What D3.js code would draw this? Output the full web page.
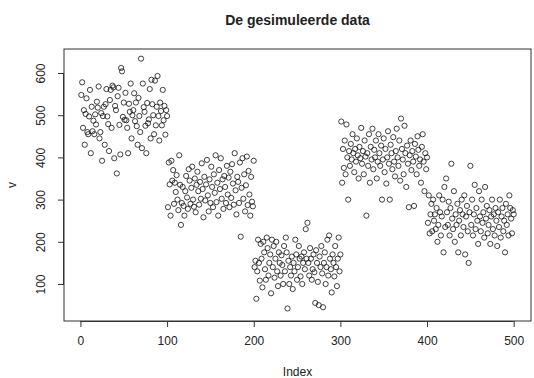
<!DOCTYPE html>
<html>
<head>
<meta charset="utf-8">
<script src="https://cdn.jsdelivr.net/npm/d3@7"></script>
<style>
  html, body { margin: 0; padding: 0; background: #fff; }
  svg { display: block; }
  text { font-family: "Liberation Sans", Arial, sans-serif; fill: #222; }
</style>
</head>
<body>
<script>
// Simulated series in five consecutive blocks of 100 observations
const block1 = [548,578,470,512,430,503,540,460,455,497,560,410,520,462,487,455,502,478,532,518,
  568,445,460,505,392,498,520,430,526,562,497,479,415,536,560,470,570,566,398,522,
  512,362,545,565,477,407,612,604,496,530,489,553,488,470,410,527,508,575,445,500,
  512,552,486,530,474,430,541,498,460,634,422,575,519,508,475,410,529,481,490,562,
  445,584,526,500,455,582,476,520,593,498,440,530,510,476,560,488,522,454,512,498];
const block2 = [282,388,336,262,392,345,370,290,340,318,358,300,275,405,335,240,292,330,285,262,
  320,356,305,278,372,345,290,328,378,300,283,350,270,335,366,320,288,342,302,386,
  325,258,354,298,336,394,310,272,348,292,378,330,282,360,316,405,294,340,262,370,
  325,398,302,348,278,356,330,292,380,312,352,282,366,304,384,338,288,410,322,265,
  354,342,292,388,212,328,398,302,360,272,334,402,287,368,312,262,354,295,284,392];
const block3 = [140,155,65,130,205,150,108,195,160,92,200,175,135,110,210,185,120,150,170,78,
  205,140,190,115,160,200,130,95,175,150,120,168,145,100,190,130,210,175,42,155,
  100,140,120,165,88,150,130,205,170,110,140,190,160,118,165,100,150,175,135,230,
  160,245,150,120,185,160,110,135,170,128,55,180,150,105,50,165,140,190,125,45,
  150,175,100,140,205,120,215,160,135,80,170,150,118,190,140,95,160,210,130,170];
const block4 = [485,340,420,375,440,360,478,400,300,415,380,432,395,455,410,365,420,390,445,405,
  350,425,398,470,385,415,360,440,402,262,410,380,455,340,425,395,468,372,418,400,
  440,350,390,455,410,380,428,300,395,445,365,420,338,400,462,385,300,430,410,372,
  448,390,355,415,468,400,380,440,345,492,420,395,360,475,410,330,428,385,282,405,
  440,370,415,390,285,432,402,360,450,418,380,395,340,425,455,390,320,410,372,400];
const block5 = [245,310,220,265,290,225,300,250,265,230,280,200,240,310,270,215,260,300,175,330,
  235,350,270,240,295,215,280,385,255,230,320,200,265,240,290,175,250,275,215,300,
  265,235,310,170,260,285,225,150,270,380,240,300,215,265,335,230,280,250,195,320,
  260,225,300,245,270,210,330,255,285,220,240,275,195,260,300,230,265,215,280,250,
  190,270,235,300,210,260,280,225,250,175,290,240,265,215,310,280,255,220,275,265];

const xTicks = [0, 100, 200, 300, 400, 500];
const yTicks = [100, 200, 300, 400, 500, 600];
const titleText = "De gesimuleerde data";
const xLabel = "Index";
const yLabel = "v";

const values = [].concat(block1, block2, block3, block4, block5);
const points = values.map((v, i) => ({ index: i + 1, v }));

const W = 534, H = 378;
const box = { left: 64, right: 531, top: 49, bottom: 321 };

const svg = d3.select("body").append("svg").attr("width", W).attr("height", H);

// R-style 4% padding around the data range
const xExt = d3.extent(points, d => d.index);
const xPad = (xExt[1] - xExt[0]) * 0.04;
const x = d3.scaleLinear().domain([xExt[0] - xPad, xExt[1] + xPad]).range([box.left, box.right]);
const y = d3.scaleLinear().domain([12.3, 656.9]).range([box.bottom, box.top]);

// plot frame
svg.append("rect")
  .attr("x", box.left).attr("y", box.top)
  .attr("width", box.right - box.left).attr("height", box.bottom - box.top)
  .attr("fill", "none").attr("stroke", "#333").attr("stroke-width", 1);

// x axis
const xAxis = svg.append("g")
  .attr("transform", `translate(0,${box.bottom})`)
  .call(d3.axisBottom(x).tickValues(xTicks).tickSize(6).tickPadding(9).tickFormat(d3.format("d")));
xAxis.select(".domain").attr("stroke", "#333").attr("d", `M${x(0)},0.5H${x(500)}`);
xAxis.selectAll(".tick line").attr("stroke", "#333");
xAxis.selectAll("text").attr("font-size", 12).attr("fill", "#222")
  .style("font-family", "'Liberation Sans', Arial, sans-serif");

// y axis with labels parallel to the axis
const yAxis = svg.append("g")
  .attr("transform", `translate(${box.left},0)`)
  .call(d3.axisLeft(y).tickValues(yTicks).tickSize(6).tickFormat(d3.format("d")));
yAxis.select(".domain").attr("stroke", "#333").attr("d", `M-0.5,${y(100)}V${y(600)}`);
yAxis.selectAll(".tick line").attr("stroke", "#333");
yAxis.selectAll("text")
  .attr("font-size", 12).attr("fill", "#222")
  .style("font-family", "'Liberation Sans', Arial, sans-serif")
  .attr("x", null).attr("dy", null)
  .attr("text-anchor", "middle")
  .attr("transform", "translate(-19,0) rotate(-90)");

// points
svg.append("g")
  .selectAll("circle")
  .data(points)
  .join("circle")
  .attr("cx", d => x(d.index))
  .attr("cy", d => y(d.v))
  .attr("r", 2.6)
  .attr("fill", "none")
  .attr("stroke", "#111")
  .attr("stroke-width", 0.8);

// title and axis titles
svg.append("text")
  .attr("x", (box.left + box.right) / 2).attr("y", 25)
  .attr("text-anchor", "middle").attr("font-size", 14).attr("font-weight", "bold")
  .attr("fill", "#111").text(titleText);

svg.append("text")
  .attr("x", (box.left + box.right) / 2).attr("y", 376)
  .attr("text-anchor", "middle").attr("font-size", 12).text(xLabel);

svg.append("text")
  .attr("transform", `translate(16,${(box.top + box.bottom) / 2}) rotate(-90)`)
  .attr("text-anchor", "middle").attr("font-size", 12).text(yLabel);
</script>
</body>
</html>
